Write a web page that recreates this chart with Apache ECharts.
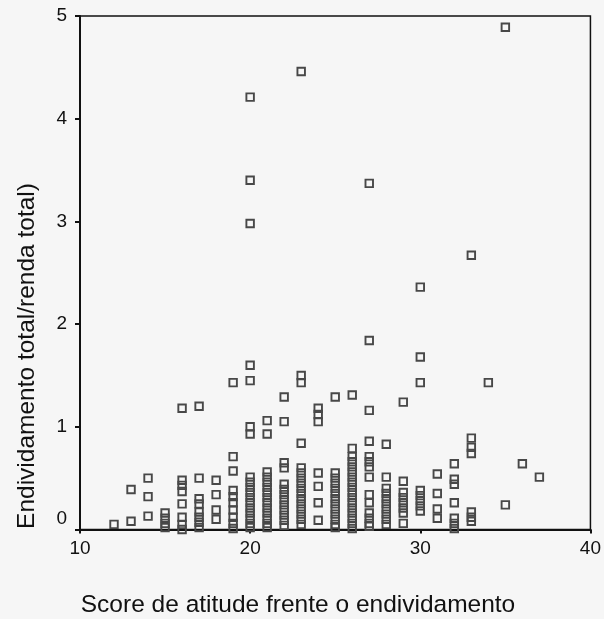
<!DOCTYPE html>
<html>
<head>
<meta charset="utf-8">
<script src="https://cdn.jsdelivr.net/npm/echarts@6/dist/echarts.min.js"></script>
<style>
html,body{margin:0;padding:0;background:#f6f6f6;}
#chart{width:604px;height:619px;}
</style>
</head>
<body>
<div id="chart"></div>
<script>
// Scores (x) and, for each score, the observed ratios (y)
const scores = [12,13,14,15,16,17,18,19,20,21,22,23,24,25,26,27,28,29,30,31,32,33,34,35,36,37];
const ratiosByScore = [
  [0.05],
  [0.39,0.08],
  [0.50,0.32,0.13],
  [0.16,0.11,0.06,0.02],
  [1.18,0.48,0.43,0.37,0.25,0.12,0.05,0.00],
  [1.20,0.50,0.30,0.25,0.17,0.12,0.07,0.02],
  [0.48,0.34,0.19,0.10],
  [1.43,0.71,0.57,0.38,0.32,0.26,0.19,0.12,0.06,0.01],
  [4.21,3.40,2.98,1.60,1.45,1.00,0.93,0.51,0.46,0.41,0.36,0.31,0.26,0.21,0.16,0.11,0.06,0.02],
  [1.06,0.93,0.56,0.51,0.46,0.41,0.36,0.31,0.26,0.21,0.16,0.11,0.06,0.02],
  [1.29,1.05,0.65,0.60,0.44,0.39,0.34,0.29,0.24,0.19,0.14,0.09,0.04],
  [4.46,1.50,1.43,0.84,0.60,0.55,0.50,0.45,0.40,0.35,0.30,0.25,0.20,0.15,0.10,0.05],
  [1.18,1.12,1.05,0.55,0.42,0.26,0.09],
  [1.29,0.55,0.50,0.45,0.40,0.35,0.30,0.25,0.20,0.15,0.10,0.05,0.02],
  [1.31,0.79,0.71,0.66,0.61,0.56,0.51,0.46,0.41,0.36,0.31,0.26,0.21,0.16,0.11,0.06,0.01],
  [3.37,1.84,1.16,0.86,0.71,0.66,0.61,0.51,0.34,0.26,0.16,0.11,0.06,0.03],
  [0.83,0.51,0.40,0.35,0.30,0.25,0.20,0.15,0.10,0.05],
  [1.24,0.47,0.36,0.31,0.26,0.21,0.16,0.06],
  [2.36,1.68,1.43,0.38,0.33,0.28,0.23,0.18],
  [0.54,0.35,0.20,0.11],
  [0.64,0.49,0.44,0.26,0.11,0.06,0.01],
  [2.67,0.89,0.80,0.74,0.17,0.12,0.08],
  [1.43],
  [4.89,0.24],
  [0.64],
  [0.51]
];
const xTicks = [10,20,30,40];
const yTicks = [0,1,2,3,4,5];
const xTitle = 'Score de atitude frente o endividamento';
const yTitle = 'Endividamento total/renda total)';

const points = [];
scores.forEach((s,i) => ratiosByScore[i].forEach(r => points.push([s,r])));

const FONT = '"Liberation Sans", Arial, sans-serif';
const chart = echarts.init(document.getElementById('chart'));
chart.setOption({
  backgroundColor: '#f6f6f6',
  animation: false,
  grid: {left: 80, right: 10, top: 16, bottom: 89.5, show: true, borderColor: '#111', borderWidth: 1.5, backgroundColor: 'transparent'},
  xAxis: {
    type: 'value', min: xTicks[0], max: xTicks[xTicks.length-1], interval: 10,
    axisLine: {show: true, lineStyle: {color: '#111', width: 2}},
    axisTick: {show: true, length: 4, lineStyle: {color: '#111', width: 2}},
    axisLabel: {color: '#111', fontSize: 19, fontFamily: FONT, margin: 10},
    splitLine: {show: false}
  },
  yAxis: {
    type: 'value', min: yTicks[0], max: yTicks[yTicks.length-1], interval: 1,
    axisLine: {show: true, lineStyle: {color: '#111', width: 2}},
    axisTick: {show: true, length: 5, lineStyle: {color: '#111', width: 2}},
    axisLabel: {
      color: '#111', fontSize: 19, fontFamily: FONT, margin: 13,
      formatter: v => v === 0 ? '{z|0}' : String(v),
      rich: {z: {fontSize: 19, fontFamily: FONT, color: '#111', padding: [0,0,22,0]}}
    },
    splitLine: {show: false}
  },
  graphic: [
    {type: 'text', x: 298, y: 605, style: {text: xTitle, font: '24.5px ' + FONT, fill: '#111', align: 'center', verticalAlign: 'middle'}},
    {type: 'text', x: 27, y: 356, rotation: Math.PI/2, style: {text: yTitle, font: '24.5px ' + FONT, fill: '#111', align: 'center', verticalAlign: 'middle'}}
  ],
  series: [{
    type: 'scatter',
    data: points,
    symbol: 'rect',
    symbolSize: 7.5,
    itemStyle: {color: 'rgba(255,255,255,0)', borderColor: '#484848', borderWidth: 1.9, opacity: 1}
  }]
});
</script>
</body>
</html>
